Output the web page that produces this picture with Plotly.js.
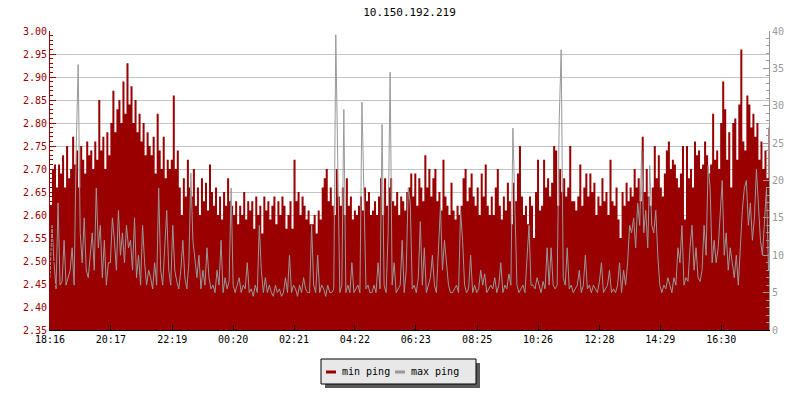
<!DOCTYPE html>
<html><head><meta charset="utf-8">
<script src="https://cdn.plot.ly/plotly-3.0.1.min.js"></script>
<style>html,body{margin:0;padding:0;background:#fff}#chart{width:800px;height:400px}</style>
</head><body><div id="chart"></div>
<script>
const chartTitle = '10.150.192.219';
const seriesNames = ['min ping', 'max ping'];
const sampleStepMinutes = 4;
// min ping (left axis, ms), one sample every 4 minutes starting 18:16
const minPing = [
2.62,2.70,2.71,2.66,2.71,2.69,2.73,2.66,2.75,2.68,
2.70,2.77,2.71,2.74,2.66,2.75,2.72,2.69,2.76,2.73,
2.74,2.70,2.76,2.72,2.85,2.74,2.77,2.70,2.78,2.73,
2.80,2.87,2.78,2.83,2.85,2.80,2.89,2.82,2.93,2.84,
2.88,2.80,2.85,2.78,2.82,2.76,2.80,2.73,2.78,2.75,
2.73,2.77,2.69,2.82,2.74,2.70,2.77,2.68,2.72,2.70,
2.72,2.86,2.70,2.74,2.66,2.60,2.68,2.64,2.72,2.66,
2.64,2.70,2.62,2.66,2.60,2.68,2.63,2.67,2.61,2.71,
2.65,2.62,2.66,2.60,2.64,2.59,2.65,2.62,2.68,2.63,
2.62,2.60,2.63,2.58,2.62,2.60,2.65,2.59,2.63,2.61,
2.63,2.57,2.64,2.60,2.62,2.56,2.64,2.61,2.63,2.59,
2.62,2.64,2.58,2.63,2.60,2.64,2.62,2.57,2.60,2.63,
2.57,2.72,2.63,2.65,2.60,2.64,2.62,2.59,2.61,2.58,
2.58,2.60,2.56,2.61,2.59,2.66,2.68,2.70,2.63,2.66,
2.62,2.60,2.70,2.64,2.62,2.66,2.60,2.68,2.62,2.64,
2.59,2.61,2.60,2.62,2.64,2.61,2.66,2.63,2.65,2.60,
2.61,2.63,2.60,2.64,2.68,2.60,2.68,2.62,2.66,2.68,
2.63,2.62,2.65,2.60,2.64,2.63,2.61,2.65,2.66,2.69,
2.64,2.69,2.62,2.68,2.66,2.63,2.73,2.66,2.70,2.64,
2.68,2.70,2.63,2.65,2.61,2.72,2.64,2.62,2.60,2.67,
2.61,2.59,2.62,2.60,2.62,2.68,2.70,2.63,2.66,2.69,
2.64,2.62,2.66,2.60,2.69,2.64,2.71,2.62,2.60,2.64,
2.60,2.66,2.70,2.62,2.59,2.64,2.61,2.67,2.63,2.58,
2.67,2.63,2.69,2.75,2.64,2.60,2.62,2.58,2.64,2.62,
2.55,2.65,2.72,2.61,2.62,2.72,2.66,2.68,2.64,2.67,
2.75,2.74,2.62,2.70,2.65,2.68,2.64,2.66,2.75,2.63,
2.63,2.61,2.64,2.71,2.62,2.66,2.69,2.64,2.69,2.65,
2.67,2.60,2.64,2.62,2.68,2.63,2.65,2.60,2.72,2.63,
2.62,2.66,2.59,2.55,2.65,2.62,2.67,2.63,2.66,2.64,
2.70,2.66,2.68,2.63,2.77,2.65,2.70,2.64,2.62,2.66,
2.75,2.68,2.73,2.66,2.64,2.69,2.74,2.76,2.70,2.72,
2.71,2.68,2.66,2.69,2.75,2.59,2.75,2.68,2.70,2.66,
2.76,2.73,2.74,2.70,2.71,2.76,2.73,2.69,2.71,2.82,
2.72,2.74,2.70,2.80,2.89,2.83,2.72,2.78,2.66,2.80,
2.81,2.72,2.84,2.96,2.76,2.74,2.86,2.84,2.79,2.82,
2.77,2.80,2.72,2.76,2.70,2.74,2.68,2.79,2.71,2.76
];
// max ping (right axis, ms)
const maxPing = [
7,14,9,5.5,17,6,6.5,12,6,7,
8,11,6,24,35.5,13,9,15,8,7,
10,13,8,19,11,14,7,12,6,9,
9,15,12,8,16,10,13,9,14,11,
12,8,15,7,10,6,14,9,6,8,
7,5.5,9,6,19,8,6,12,16,8,
6,14,8,6.5,5.5,8,12,7,5.5,9,
21,12,9,7,10,5.5,8,6,11,7,
5.5,6,5,8,6,12,5,7,5.5,6.5,
19,6,5,6,7,5,6,5.5,9,5,
5.5,4.5,6,5,14,8,5,7,5,6,
5,4.5,6,5,5.5,4.5,5,7,5,10,
5,6,5.5,4.5,6,5,7,5.5,5,5,
14,6,5,10,5,6,5.5,4.5,6,5,
5,5.5,39.5,22,5,6,29.5,5,6,5,
9,5,5.5,6,5,30.5,18,5.5,6,5,
5,6,5,9,5.5,27.5,6,5,13,34.5,
6,9,5,5.5,6,12,5,8,19,17,
5.5,6,5,7,14.5,6,11,5,6,7,
10,6,5,10,16.5,8,12,9,6,5,
5,5.5,6,5,16,12,6,5,5.5,10,
5,6,5,5.5,8,6,7.5,5,5.5,6,
5.5,7,5,6,9,5,6,5.5,7.5,6,
27,15,6,5,5.5,6,5,9,14,6,
6,5.5,7,6,5,6.5,5.5,11,6,11,
6,5.5,6,28,37.5,7,6,11,5.5,6,
5,5.5,6,8,5,6,10,5.5,6,5,
6,5.5,5,6.5,9,5,5.5,6,8,5,
5.5,5,6,9,5,8,6,9,14,13,
15,11,17,14,24,13,16,11,22,14,
13,16,10,6,5,6,5.5,7,6,5,
7,6,11,9,14,6,7,6.5,11,14,
8,11,7,6.5,8,14,10,22,19,9,
12,9,11,15,20,10,13,8,11,9,
7,10,6,11,16,19,20,14,17,12,
15,21.5,16,12,10,14,19,8,13,7
];
const tickLabels = ['18:16','20:17','22:19','00:20','02:21','04:22','06:23','08:25','10:26','12:28','14:29','16:30'];
const tickMinutes = [0,121,243,364,485,606,727,849,970,1092,1213,1334];
const xRangeMinutes = [0, 1429];
const leftRange = [2.35, 3.00];
const rightRange = [0, 40];

const sampleMinutes = minPing.map((_, i) => i * sampleStepMinutes);

const RED = '#990000', GRAY = '#999999';
const FONT = 'DejaVu Sans Mono, Liberation Mono, monospace';

// pixel -> paper helpers for the hand-drawn legend box
const M = {l: 50, r: 31, t: 31, b: 70};
const PW = 800 - M.l - M.r, PH = 400 - M.t - M.b;
const px = x => (x - M.l) / PW;
const py = y => (400 - M.b - y) / PH;

const traces = [
  {x: sampleMinutes, y: minPing, type: 'scatter', mode: 'lines', name: seriesNames[0],
   line: {color: RED, width: 0, shape: 'hv'}, fill: 'tozeroy', fillcolor: RED, yaxis: 'y', hoverinfo: 'skip'},
  {x: sampleMinutes, y: maxPing, type: 'scatter', mode: 'lines', name: seriesNames[1],
   line: {color: GRAY, width: 1}, yaxis: 'y2', hoverinfo: 'skip'}
];

const layout = {
  width: 800, height: 400, margin: M,
  paper_bgcolor: '#ffffff', plot_bgcolor: '#ffffff',
  showlegend: false,
  font: {family: FONT, size: 10, color: '#000000'},
  title: {text: chartTitle, x: 0.5, xref: 'paper', xanchor: 'center', y: 1 - 12 / 400, yref: 'container', yanchor: 'middle',
          font: {family: FONT, size: 11, color: '#000000'}},
  xaxis: {range: xRangeMinutes, tickvals: tickMinutes, ticktext: tickLabels, showgrid: false, zeroline: false,
          showline: true, linecolor: '#000', linewidth: 1, ticks: 'inside', ticklen: 5, tickcolor: '#000',
          tickfont: {family: FONT, size: 10, color: '#000000'}},
  yaxis: {range: leftRange, dtick: 0.05, tickformat: '.2f', showgrid: true, gridcolor: '#c4c4c4', gridwidth: 1,
          zeroline: false, showline: true, linecolor: RED, ticks: 'inside', ticklen: 6, tickcolor: RED,
          tickfont: {family: FONT, size: 10, color: RED},
          minor: {dtick: 0.01, ticks: 'inside', ticklen: 3, tickcolor: RED, showgrid: false}},
  yaxis2: {range: rightRange, dtick: 5, overlaying: 'y', side: 'right', showgrid: false, zeroline: false,
           showline: true, linecolor: GRAY, ticks: 'inside', ticklen: 6, tickcolor: GRAY,
           tickfont: {family: FONT, size: 10, color: GRAY},
           minor: {dtick: 1, ticks: 'inside', ticklen: 3, tickcolor: GRAY, showgrid: false}},
  shapes: [
    {type: 'rect', xref: 'paper', yref: 'paper', x0: px(325), x1: px(480), y0: py(388), y1: py(363),
     fillcolor: '#5a5a5a', line: {width: 0}},
    {type: 'rect', xref: 'paper', yref: 'paper', x0: px(321), x1: px(476), y0: py(384), y1: py(359),
     fillcolor: '#e8e8e8', line: {color: '#000000', width: 1}},
    {type: 'line', xref: 'paper', yref: 'paper', x0: px(326), x1: px(336), y0: py(372), y1: py(372),
     line: {color: RED, width: 3}},
    {type: 'line', xref: 'paper', yref: 'paper', x0: px(395), x1: px(405), y0: py(372), y1: py(372),
     line: {color: GRAY, width: 3}}
  ],
  annotations: [
    {xref: 'paper', yref: 'paper', x: px(340), y: py(371), xanchor: 'left', yanchor: 'middle', showarrow: false,
     text: seriesNames[0], font: {family: FONT, size: 10, color: 'black'}},
    {xref: 'paper', yref: 'paper', x: px(409), y: py(371), xanchor: 'left', yanchor: 'middle', showarrow: false,
     text: seriesNames[1], font: {family: FONT, size: 10, color: 'black'}}
  ]
};

Plotly.newPlot('chart', traces, layout, {staticPlot: true, displayModeBar: false});
</script></body></html>
